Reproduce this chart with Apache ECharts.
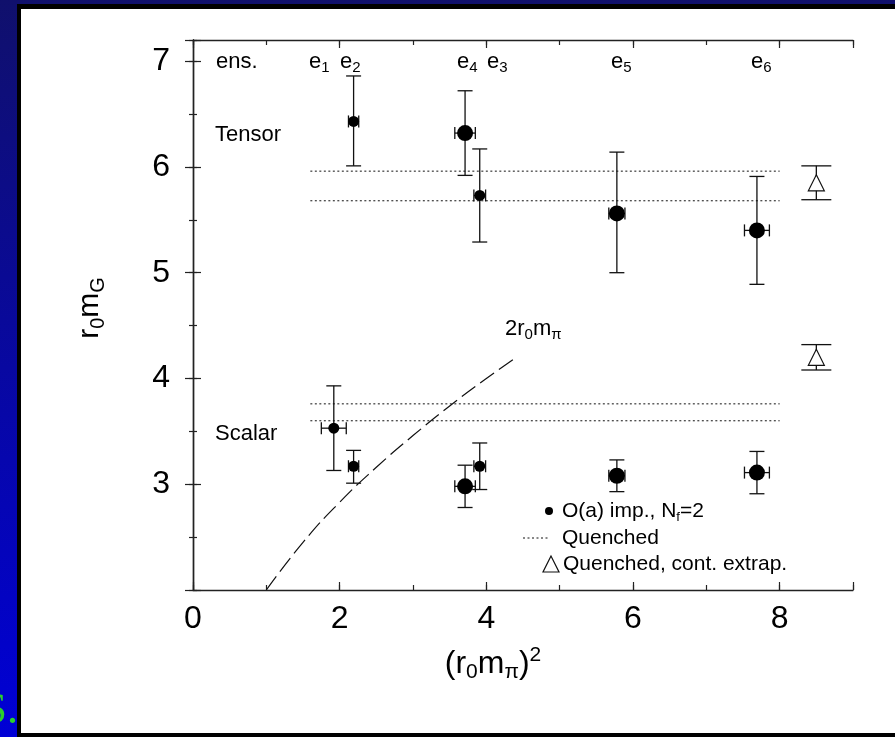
<!DOCTYPE html>
<html>
<head>
<meta charset="utf-8">
<script src="https://cdn.jsdelivr.net/npm/echarts@6/dist/echarts.min.js"></script>
<style>
  html, body { margin: 0; padding: 0; width: 895px; height: 737px; overflow: hidden; }
  #chart { width: 895px; height: 737px; }
</style>
</head>
<body>
<div id="chart"></div>
<script>
// Ensembles and their pion mass squared (r0 m_pi)^2 with horizontal errors
const ensembles = ['e1', 'e2', 'e3', 'e4', 'e5', 'e6'];
const pionMassSq = [1.92, 2.19, 3.91, 3.71, 5.78, 7.69];
const pionMassSqErr = [0.17, 0.07, 0.08, 0.14, 0.11, 0.17];

// Glueball masses r0 m_G, O(a) improved, Nf = 2
const tensorMass = [null, 6.43, 5.73, 6.32, 5.56, 5.40];
const tensorLow  = [null, 6.01, 5.29, 5.92, 5.00, 4.89];
const tensorHigh = [null, 6.86, 6.17, 6.72, 6.14, 5.91];
const scalarMass = [3.53, 3.17, 3.17, 2.98, 3.08, 3.11];
const scalarLow  = [3.13, 3.01, 2.95, 2.78, 2.93, 2.91];
const scalarHigh = [3.93, 3.32, 3.39, 3.18, 3.23, 3.31];

// Quenched bands (lower and upper edge) and their horizontal extent
const quenchedRange = [1.6, 8.0];
const quenchedTensor = [5.68, 5.96];
const quenchedScalar = [3.60, 3.76];

// Quenched continuum extrapolations (tensor, scalar)
const contX = [8.5, 8.5];
const contMass = [5.85, 4.20];
const contLow = [5.69, 4.08];
const contHigh = [6.01, 4.32];

// Two-pion threshold 2 r0 m_pi
const thresholdX = [1.0, 1.5, 2.0, 2.5, 3.0, 3.5, 4.0, 4.43];
const thresholdY = [2.0, 2.45, 2.83, 3.16, 3.46, 3.74, 4.0, 4.21];

// Tick labels
const xTickLabels = [0, 2, 4, 6, 8];
const yTickLabels = [3, 4, 5, 6, 7];

// Ensembles drawn with the larger marker
const largeMarkerEnsembles = ['e4', 'e5', 'e6'];

const FONT = '"Liberation Sans", Arial, sans-serif';
const INK = '#111';

function collectPoints(mass, low, high, large) {
  const out = [];
  ensembles.forEach(function (e, i) {
    if (mass[i] == null) return;
    if (large !== undefined && largeMarkerEnsembles.includes(e) !== large) return;
    out.push({ name: e, value: [pionMassSq[i], mass[i], pionMassSqErr[i], low[i], high[i]] });
  });
  return out;
}

const dynamicAll = collectPoints(tensorMass, tensorLow, tensorHigh)
  .concat(collectPoints(scalarMass, scalarLow, scalarHigh));
const dynamicSmall = collectPoints(tensorMass, tensorLow, tensorHigh, false)
  .concat(collectPoints(scalarMass, scalarLow, scalarHigh, false));
const dynamicLarge = collectPoints(tensorMass, tensorLow, tensorHigh, true)
  .concat(collectPoints(scalarMass, scalarLow, scalarHigh, true));
const contPoints = contX.map(function (x, i) {
  return { value: [x, contMass[i], 0, contLow[i], contHigh[i]] };
});
const thresholdData = thresholdX.map(function (x, i) { return [x, thresholdY[i]]; });

// Error bars: vertical bar with caps, optional horizontal bar with caps
function errorBars(capWidth, capHeight) {
  return function (params, api) {
    const x = api.value(0), y = api.value(1), dx = api.value(2);
    const lo = api.coord([x, api.value(3)]);
    const hi = api.coord([x, api.value(4)]);
    const st = { stroke: INK, lineWidth: 1.3, fill: null };
    const seg = function (x1, y1, x2, y2) {
      return { type: 'line', shape: { x1: x1, y1: y1, x2: x2, y2: y2 }, style: st };
    };
    const kids = [
      seg(lo[0], lo[1], hi[0], hi[1]),
      seg(lo[0] - capWidth / 2, lo[1], lo[0] + capWidth / 2, lo[1]),
      seg(hi[0] - capWidth / 2, hi[1], hi[0] + capWidth / 2, hi[1])
    ];
    if (dx > 0) {
      const l = api.coord([x - dx, y]);
      const r = api.coord([x + dx, y]);
      kids.push(seg(l[0], l[1], r[0], r[1]));
      kids.push(seg(l[0], l[1] - capHeight / 2, l[0], l[1] + capHeight / 2));
      kids.push(seg(r[0], r[1] - capHeight / 2, r[0], r[1] + capHeight / 2));
    }
    return { type: 'group', children: kids };
  };
}

// Rich text styles for sub- and superscripts
function richStyles(F, f) {
  const L = Math.round(F * 1.2);
  const hSub = Math.max(2, Math.round(2 * (0.32 * f - 0.04 * F)));
  const hSup = Math.max(2, Math.round(2 * (0.47 * F - 0.32 * f)));
  return {
    m: { fontSize: F, fontFamily: FONT, lineHeight: L, fill: '#000' },
    s: { fontSize: f, fontFamily: FONT, lineHeight: hSub, verticalAlign: 'bottom', fill: '#000' },
    p: { fontSize: f, fontFamily: FONT, lineHeight: hSup, verticalAlign: 'top', fill: '#000' }
  };
}

function label(x, y, text, F, f, opts) {
  opts = opts || {};
  return {
    type: 'text', x: x, y: y, z: 20, rotation: opts.rotation || 0,
    style: {
      x: 0, y: 0, text: text, rich: richStyles(F, f || Math.round(F * 0.68)),
      font: F + 'px ' + FONT, fill: '#000',
      align: opts.align || 'left', verticalAlign: 'middle',
      textAlign: opts.align || 'left', textVerticalAlign: 'middle'
    }
  };
}

const quenchedSeries = quenchedTensor.concat(quenchedScalar).map(function (v) {
  return {
    type: 'line', data: [[quenchedRange[0], v], [quenchedRange[1], v]],
    symbol: 'none', silent: true, z: 1,
    lineStyle: { color: INK, width: 1, type: [2, 2.5] }
  };
});

const tickStyle = { color: '#222', width: 1.2 };
const frameLine = { show: true, lineStyle: { color: '#222', width: 1.4 } };
function xAx(pos, interval, len, withLine, withLabels) {
  return {
    type: 'value', min: 0, max: 9, interval: interval, position: pos,
    axisLine: withLine ? frameLine : { show: false },
    axisTick: { show: true, inside: true, length: len, lineStyle: tickStyle },
    axisLabel: withLabels ? {
      show: true, margin: 13, fontSize: 32, fontFamily: FONT, color: '#000',
      formatter: function (v) { return xTickLabels.includes(v) ? String(v) : ''; }
    } : { show: false },
    splitLine: { show: false }
  };
}
function yAx(pos, interval, len, withLine, withLabels) {
  return {
    type: 'value', min: 2, max: 7.2, interval: interval, position: pos,
    axisLine: withLine ? frameLine : { show: false },
    axisTick: { show: true, inside: true, length: len, lineStyle: tickStyle },
    axisLabel: withLabels ? {
      show: true, margin: 23, fontSize: 32, fontFamily: FONT, color: '#000',
      formatter: function (v) { return yTickLabels.includes(v) ? String(v) : ''; }
    } : { show: false },
    splitLine: { show: false }
  };
}

const chart = echarts.init(document.getElementById('chart'), null, { renderer: 'canvas' });

chart.setOption({
  animation: false,
  grid: { left: 193, right: 42, top: 40, bottom: 147 },
  xAxis: [
    xAx('bottom', 1, 5, true, false),
    xAx('bottom', 2, 8, false, true),
    xAx('top', 1, 5, true, false),
    xAx('top', 2, 8, false, false)
  ],
  yAxis: [
    yAx('left', 0.5, 4, true, false),
    yAx('left', 1, 8, false, true),
    yAx('right', 0.5, 4, true, false),
    yAx('right', 1, 8, false, false)
  ],
  graphic: [
    // slide background and framed white panel
    { type: 'rect', z: -30, shape: { x: 0, y: 0, width: 895, height: 737 },
      style: { fill: new echarts.graphic.LinearGradient(0, 0, 0, 1, [
        { offset: 0, color: '#10106c' }, { offset: 1, color: '#0000d6' }]) } },
    { type: 'text', z: -29, x: 18, y: 711,
      style: { text: 'S.', font: '44px "Liberation Serif", serif', fill: '#2bd12b',
        align: 'right', verticalAlign: 'middle', textAlign: 'right', textVerticalAlign: 'middle' } },
    { type: 'rect', z: -28, shape: { x: 17, y: 4, width: 878, height: 733 }, style: { fill: '#000' } },
    { type: 'rect', z: -27, shape: { x: 21, y: 9, width: 874, height: 724 }, style: { fill: '#fff' } },

    // axis titles
    label(90, 308, '{m|r}{s|0}{m|m}{s|G}', 30, 20, { rotation: Math.PI / 2, align: 'center' }),
    label(493, 664, '{m|(r}{s|0}{m|m}{s|π}{m|)}{p|2}', 32, 21, { align: 'center' }),

    // ensemble names along the top
    label(216, 62, '{m|ens.}', 22),
    label(309, 62, '{m|e}{s|1}', 22, 15),
    label(340, 62, '{m|e}{s|2}', 22, 15),
    label(457, 62, '{m|e}{s|4}', 22, 15),
    label(487, 62, '{m|e}{s|3}', 22, 15),
    label(611, 62, '{m|e}{s|5}', 22, 15),
    label(751, 62, '{m|e}{s|6}', 22, 15),

    // channel names and threshold label
    label(215, 135, '{m|Tensor}', 22),
    label(215, 434, '{m|Scalar}', 22),
    label(505, 329, '{m|2r}{s|0}{m|m}{s|π}', 22, 15),

    // legend
    { type: 'circle', z: 20, shape: { cx: 549, cy: 511, r: 4 }, style: { fill: '#000' } },
    label(562, 511, '{m|O(a) imp., N}{s|f}{m|=2}', 21, 13),
    { type: 'line', z: 20, shape: { x1: 523, y1: 538, x2: 548, y2: 538 },
      style: { stroke: INK, lineWidth: 1, lineDash: [2, 2.5] } },
    label(562, 538, '{m|Quenched}', 21),
    { type: 'polygon', z: 20, shape: { points: [[551, 556], [543, 572], [559, 572]] },
      style: { fill: '#fff', stroke: INK, lineWidth: 1.2 } },
    label(563, 564, '{m|Quenched, cont. extrap.}', 21)
  ],
  series: quenchedSeries.concat([
    {
      type: 'line', data: thresholdData, smooth: true, symbol: 'none', silent: true, z: 1,
      lineStyle: { color: INK, width: 1.2, type: [17, 6] }
    },
    {
      type: 'custom', data: dynamicAll, renderItem: errorBars(15, 12), z: 3, silent: true,
      encode: { x: 0, y: 1 }
    },
    {
      type: 'scatter', data: dynamicSmall, symbol: 'circle', symbolSize: 11, z: 4, silent: true,
      itemStyle: { color: '#000', opacity: 1 }
    },
    {
      type: 'scatter', data: dynamicLarge, symbol: 'circle', symbolSize: 16, z: 4, silent: true,
      itemStyle: { color: '#000', opacity: 1 }
    },
    {
      type: 'custom', data: contPoints, renderItem: errorBars(30, 0), z: 3, silent: true,
      encode: { x: 0, y: 1 }
    },
    {
      type: 'scatter', data: contPoints, symbol: 'triangle', symbolSize: 16, z: 5, silent: true,
      itemStyle: { color: '#fff', borderColor: INK, borderWidth: 1.2, opacity: 1 }
    }
  ])
});
</script>
</body>
</html>
